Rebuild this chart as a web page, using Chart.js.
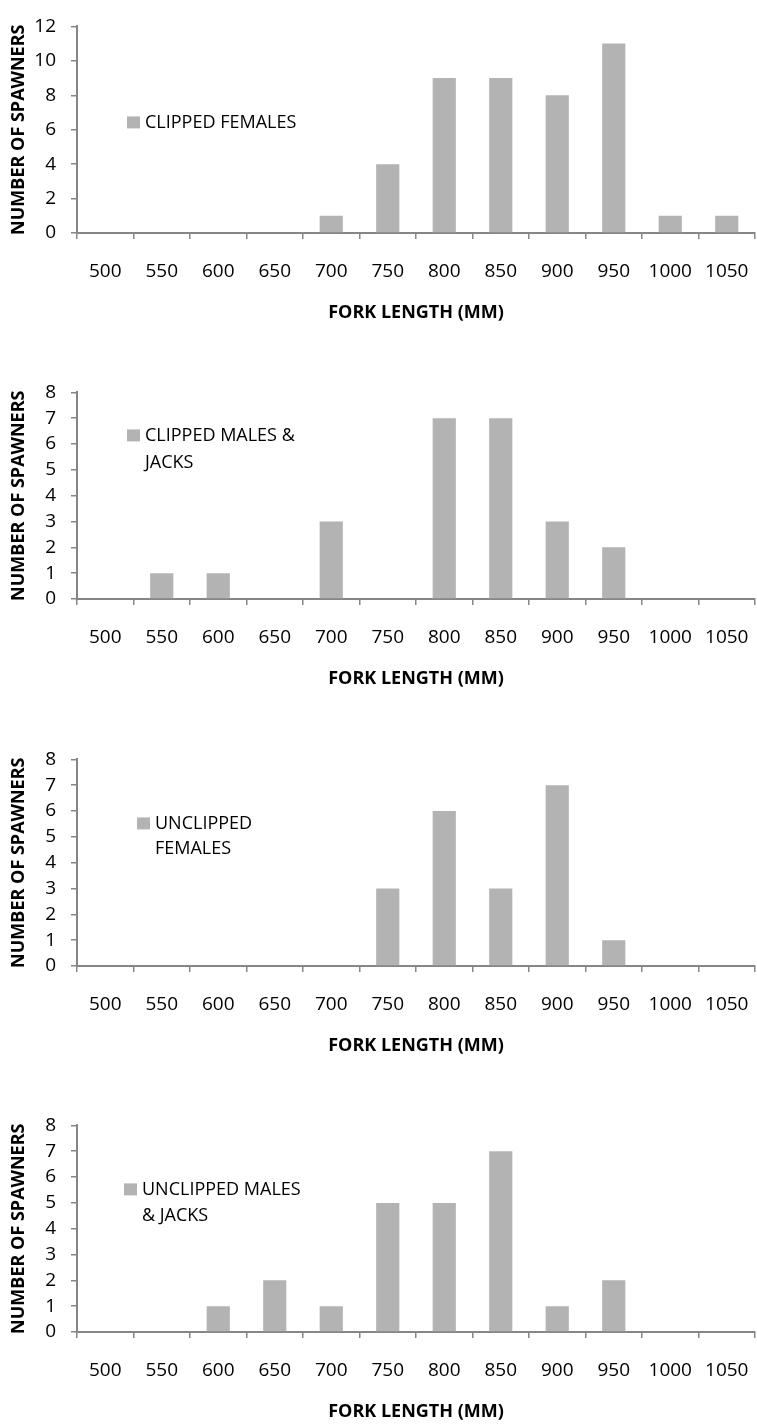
<!DOCTYPE html>
<html>
<head>
<meta charset="utf-8">
<script src="https://cdn.jsdelivr.net/npm/chart.js@4/dist/chart.umd.min.js"></script>
<style>
  html, body { margin: 0; padding: 0; background: #fff; overflow: hidden; }
  .panel { position: absolute; left: 0; width: 757px; height: 324px; }
  canvas { display: block; }
</style>
</head>
<body>
<div class="panel" style="top:0px"><canvas id="c1"></canvas></div>
<div class="panel" style="top:366px"><canvas id="c2"></canvas></div>
<div class="panel" style="top:733px"><canvas id="c3"></canvas></div>
<div class="panel" style="top:1099px"><canvas id="c4"></canvas></div>
<script>
// fork length bins (mm)
const forkLengths = ['500', '550', '600', '650', '700', '750', '800', '850', '900', '950', '1000', '1050'];

// number of spawners per bin
const clippedFemales      = [0, 0, 0, 0, 1, 4, 9, 9, 8, 11, 1, 1];
const clippedMalesJacks   = [0, 1, 1, 0, 3, 0, 7, 7, 3, 2, 0, 0];
const unclippedFemales    = [0, 0, 0, 0, 0, 3, 6, 3, 7, 1, 0, 0];
const unclippedMalesJacks = [0, 0, 1, 2, 1, 5, 5, 7, 1, 2, 0, 0];

// legend text, one entry per line
const labelClippedFemales      = ['CLIPPED FEMALES'];
const labelClippedMalesJacks   = ['CLIPPED MALES &', 'JACKS'];
const labelUnclippedFemales    = ['UNCLIPPED', 'FEMALES'];
const labelUnclippedMalesJacks = ['UNCLIPPED MALES', '& JACKS'];

const yMaxes = [12, 8, 8, 8];
const ySteps = [2, 1, 1, 1];

const FONT = '"Open Sans", "Liberation Sans", sans-serif';
const BAR_GRAY = '#b3b3b3';
const AXIS_GRAY = '#868686';

// draws the little in-plot legend (square + wrapped text)
const insetLegend = {
  id: 'insetLegend',
  afterDraw(chart, args, opts) {
    const ctx = chart.ctx;
    const area = chart.chartArea;
    const x = opts.x;
    const y = area.top + opts.dy;
    ctx.save();
    ctx.fillStyle = BAR_GRAY;
    ctx.fillRect(x, y - 6, 13, 12);
    ctx.fillStyle = '#000';
    ctx.font = '18px ' + FONT;
    ctx.textBaseline = 'middle';
    ctx.textAlign = 'left';
    opts.lines.forEach((line, i) => {
      ctx.fillText(line, x + 18, y + i * opts.lineGap);
    });
    ctx.restore();
  }
};

function makeChart(id, values, legendLines, yMax, yStep, legendPos) {
  const ctx = document.getElementById(id).getContext('2d');
  return new Chart(ctx, {
    type: 'bar',
    data: {
      labels: forkLengths,
      datasets: [{
        data: values,
        backgroundColor: BAR_GRAY,
        borderWidth: 0,
        categoryPercentage: 1.0,
        barPercentage: 0.41
      }]
    },
    plugins: [insetLegend],
    options: {
      responsive: true,
      maintainAspectRatio: false,
      animation: false,
      devicePixelRatio: 1,
      layout: { padding: { top: 15, right: 2, left: 0, bottom: 0 } },
      plugins: {
        legend: { display: false },
        tooltip: { enabled: false },
        insetLegend: {
          lines: legendLines,
          x: legendPos.x,
          dy: legendPos.dy,
          lineGap: legendPos.gap
        }
      },
      scales: {
        x: {
          offset: true,
          grid: {
            offset: true,
            drawOnChartArea: false,
            drawTicks: true,
            tickLength: 6,
            color: AXIS_GRAY,
            lineWidth: 1.5
          },
          border: { color: AXIS_GRAY, width: 2 },
          ticks: {
            color: '#000',
            font: { family: FONT, size: 19 },
            padding: 21,
            maxRotation: 0,
            autoSkip: false
          },
          title: {
            display: true,
            text: 'FORK LENGTH (MM)',
            color: '#000',
            font: { family: FONT, size: 18, weight: 'bold' },
            padding: { top: 0, bottom: 0 }
          },
          afterFit(scale) {
            scale.height = 91;
            // labels sit inside their categories, no extra side room needed
            scale.paddingLeft = 0;
            scale.paddingRight = 0;
          }
        },
        y: {
          min: 0,
          max: yMax,
          grid: {
            drawOnChartArea: false,
            drawTicks: true,
            tickLength: 6,
            color: AXIS_GRAY,
            lineWidth: 1.5
          },
          border: { color: AXIS_GRAY, width: 2 },
          ticks: {
            stepSize: yStep,
            color: '#000',
            font: { family: FONT, size: 19 },
            padding: 15
          },
          title: {
            display: true,
            text: 'NUMBER OF SPAWNERS',
            color: '#000',
            font: { family: FONT, size: 18, weight: 'bold' },
            padding: { top: 8, bottom: 0 }
          },
          afterFit(scale) { scale.width = 77; }
        }
      }
    }
  });
}

makeChart('c1', clippedFemales, labelClippedFemales, yMaxes[0], ySteps[0], { x: 127, dy: 96, gap: 26 });
makeChart('c2', clippedMalesJacks, labelClippedMalesJacks, yMaxes[1], ySteps[1], { x: 127, dy: 43, gap: 27 });
makeChart('c3', unclippedFemales, labelUnclippedFemales, yMaxes[2], ySteps[2], { x: 137, dy: 64, gap: 25 });
makeChart('c4', unclippedMalesJacks, labelUnclippedMalesJacks, yMaxes[3], ySteps[3], { x: 124, dy: 64, gap: 26 });
</script>
</body>
</html>
